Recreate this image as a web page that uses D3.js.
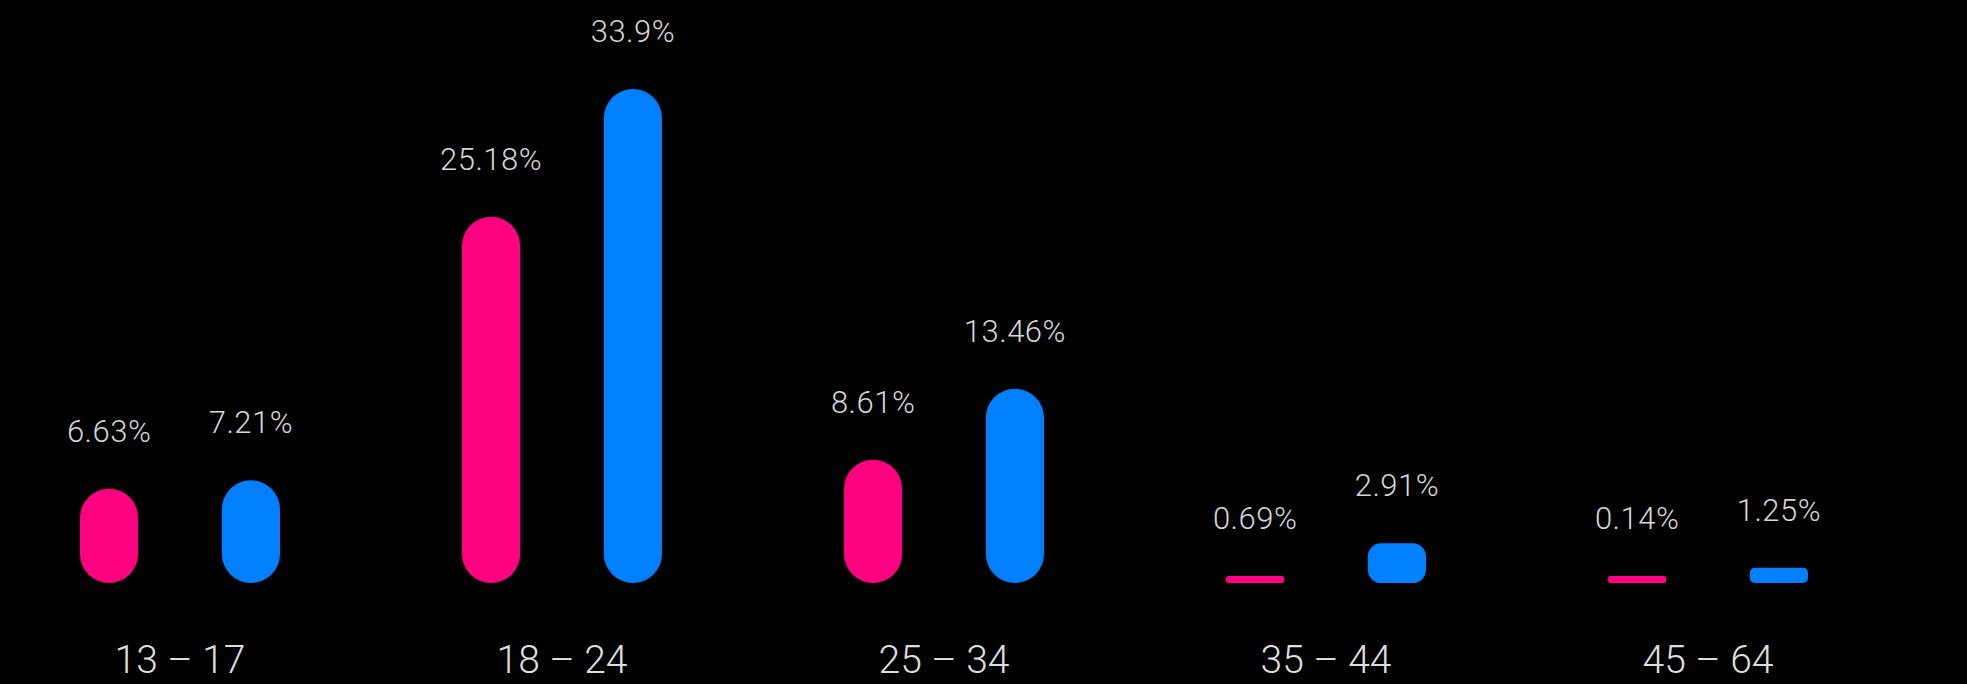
<!DOCTYPE html>
<html>
<head>
<meta charset="utf-8">
<script src="https://cdn.jsdelivr.net/npm/d3@7"></script>
<style>
  html, body { margin: 0; padding: 0; background: #000; }
  svg { display: block; background: #000; }
  .rotulo { font-family: Roboto, 'Noto Sans', sans-serif; font-weight: 300; font-size: 31px; letter-spacing: 0.5px; fill: #d6d6d6; text-anchor: middle; }
  .categoria { font-family: Roboto, 'Noto Sans', sans-serif; font-weight: 300; font-size: 39px; fill: #dedede; text-anchor: middle; }
</style>
</head>
<body>
<svg id="grafico"></svg>
<script>
// dados do gráfico
const faixas = ['13 – 17', '18 – 24', '25 – 34', '35 – 44', '45 – 64'];
const series = ['feminino', 'masculino'];
const valoresFeminino = [6.63, 25.18, 8.61, 0.69, 0.14];
const valoresMasculino = [7.21, 33.9, 13.46, 2.91, 1.25];
const rotulosFeminino = ['6.63%', '25.18%', '8.61%', '0.69%', '0.14%'];
const rotulosMasculino = ['7.21%', '33.9%', '13.46%', '2.91%', '1.25%'];

const largura = 1967;
const altura = 684;
const base = 583; // linha de base das barras
const alturaMinima = 7; // barras muito pequenas ainda aparecem

const cores = d3.scaleOrdinal().domain(series).range(['#ff0080', '#0080ff']);

// monta a tabela a partir dos arrays
const dados = [];
faixas.forEach((f, i) => {
  dados.push({ faixa: f, serie: 'feminino', valor: valoresFeminino[i], rotulo: rotulosFeminino[i] });
  dados.push({ faixa: f, serie: 'masculino', valor: valoresMasculino[i], rotulo: rotulosMasculino[i] });
});

const svg = d3.select('#grafico').attr('width', largura).attr('height', altura);

// escalas horizontais (grupo e série dentro do grupo) e vertical
const x0 = d3.scalePoint().domain(faixas).range([180, 1708]);
const x1 = d3.scaleBand().domain(series).range([-100, 100]).paddingInner(0.59).paddingOuter(0);
const y = d3.scaleLinear().domain([0, d3.max(dados, d => d.valor)]).range([base + 3, 89]);

const alturaBarra = d => Math.max(base - y(d.valor), alturaMinima);

const grupos = svg.selectAll('.grupo')
  .data(faixas)
  .enter()
  .append('g')
  .classed('grupo', true)
  .attr('transform', d => `translate(${x0(d)}, 0)`);

// barras arredondadas
grupos.selectAll('.barra')
  .data(f => dados.filter(d => d.faixa === f))
  .enter()
  .append('rect')
  .classed('barra', true)
  .attr('x', d => x1(d.serie))
  .attr('y', d => base - alturaBarra(d))
  .attr('width', x1.bandwidth())
  .attr('height', d => alturaBarra(d))
  .attr('rx', d => Math.min(x1.bandwidth() / 2, alturaBarra(d) / 3))
  .attr('fill', d => cores(d.serie));

// rótulos de valor acima das barras
grupos.selectAll('.rotulo')
  .data(f => dados.filter(d => d.faixa === f))
  .enter()
  .append('text')
  .classed('rotulo', true)
  .attr('x', d => x1(d.serie) + x1.bandwidth() / 2)
  .attr('y', d => base - alturaBarra(d) - 47)
  .text(d => d.rotulo);

// rótulos das faixas etárias
grupos.append('text')
  .classed('categoria', true)
  .attr('x', 0)
  .attr('y', 673)
  .text(d => d);
</script>
</body>
</html>
